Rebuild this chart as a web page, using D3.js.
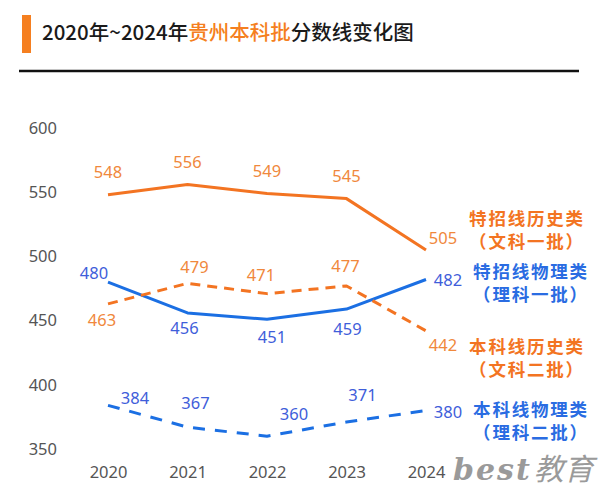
<!DOCTYPE html>
<html><head><meta charset="utf-8">
<script src="https://cdn.jsdelivr.net/npm/d3@7"></script>
<style>
html,body{margin:0;padding:0;background:#fff;}
svg{display:block;font-family:"Noto Sans CJK SC","Noto Sans",sans-serif;}
</style></head>
<body>
<svg id="c" width="600" height="495"></svg>
<script>
const years = ["2020","2021","2022","2023","2024"];
const yTicks = [350,400,450,500,550,600];
const histSpecial = [548,556,549,545,505];   // 特招线历史类（文科一批）
const physSpecial = [480,456,451,459,482];   // 特招线物理类（理科一批）
const histUndergrad = [463,479,471,477,442]; // 本科线历史类（文科二批）
const physUndergrad = [384,367,360,371,380]; // 本科线物理类（理科二批）
const seriesNames = [["特招线历史类","（文科一批）"],["特招线物理类","（理科一批）"],["本科线历史类","（文科二批）"],["本科线物理类","（理科二批）"]];

const ORANGE="#F37422", ORANGE_T="#F0883C", BLUE="#1B6FE3", BLUE_T="#3F5EDA", BLUE_L="#2A6CE2";

const series = [
  {values:histSpecial, color:ORANGE, tcolor:ORANGE_T, lcolor:ORANGE, dash:null, name:seriesNames[0],
   off:[[0,-23],[0,-23],[0,-23],[0,-23],[17,-12]], legend:[527,217]},
  {values:physSpecial, color:BLUE, tcolor:BLUE_T, lcolor:BLUE_L, dash:null, name:seriesNames[1],
   off:[[-14,-10],[-3,15],[5,17],[1,19],[22,0]], legend:[531,270]},
  {values:histUndergrad, color:ORANGE, tcolor:ORANGE_T, lcolor:ORANGE, dash:"10,7", name:seriesNames[2],
   off:[[-6,16],[7,-17],[-6,-19],[-1,-20],[17,14]], legend:[527,345]},
  {values:physUndergrad, color:BLUE, tcolor:BLUE_T, lcolor:BLUE_L, dash:"12,10", name:seriesNames[3],
   off:[[27,-8],[8,-25],[27,-23],[16,-28],[22,1]], legend:[531,408]}
];

const svg = d3.select("#c");

// Title
svg.append("rect").attr("x",22).attr("y",15).attr("width",9).attr("height",38).attr("fill","#F57F20");
const title = svg.append("text").attr("x",42).attr("y",40).attr("font-size",20.5).attr("font-weight",500).attr("fill","#1a1a1a");
title.append("tspan").text("2020年~2024年");
title.append("tspan").attr("fill","#F57F20").text("贵州本科批");
title.append("tspan").text("分数线变化图");
svg.append("line").attr("x1",19).attr("x2",579).attr("y1",71).attr("y2",71).attr("stroke","#111").attr("stroke-width",2.5);

const x = d3.scalePoint().domain(years).range([108,426]);
const y = d3.scaleLinear().domain([350,600]).range([449,128]);

// Axes
const yAx = svg.append("g").attr("transform","translate(62,0)")
  .call(d3.axisLeft(y).tickValues(yTicks).tickSize(0).tickPadding(5).tickFormat(d3.format("d")));
yAx.select(".domain").remove();
yAx.selectAll("text").attr("font-size",16.5).attr("fill","#555").attr("font-family","'Noto Sans',sans-serif");

const xAx = svg.append("g").attr("transform","translate(0,460)")
  .call(d3.axisBottom(x).tickSize(0).tickPadding(6));
xAx.select(".domain").remove();
xAx.selectAll("text").attr("font-size",16.5).attr("fill","#555").attr("font-family","'Noto Sans',sans-serif");

const line = d3.line().x((d,i)=>x(years[i])).y(d=>y(d));

series.forEach(s=>{
  svg.append("path").datum(s.values).attr("d",line).attr("fill","none")
    .attr("stroke",s.color).attr("stroke-width",3).attr("stroke-linejoin","round")
    .attr("stroke-dasharray",s.dash);
  svg.append("g").selectAll("text").data(s.values).join("text")
    .attr("x",(d,i)=>x(years[i])+s.off[i][0])
    .attr("y",(d,i)=>y(d)+s.off[i][1])
    .attr("text-anchor","middle").attr("dominant-baseline","central")
    .attr("font-size",16.5).attr("fill",s.tcolor).attr("font-family","'Noto Sans',sans-serif")
    .text(d=>d);
  const lg = svg.append("g");
  s.name.forEach((t,k)=>{
    lg.append("text").attr("x",s.legend[0]).attr("y",s.legend[1]+k*23)
      .attr("text-anchor","middle").attr("dominant-baseline","central")
      .attr("font-size",17.5).attr("font-weight",700).attr("letter-spacing",1.8)
      .attr("fill",s.lcolor).text(t);
  });
});

// Watermark
const wm = svg.append("text").attr("x",453).attr("y",480).attr("fill","#9a9a9a");
wm.append("tspan").attr("font-family","'DejaVu Serif',serif").attr("font-style","italic").attr("font-weight",700).attr("font-size",30).attr("letter-spacing",2).text("best");
wm.append("tspan").attr("font-size",30).attr("font-style","italic").attr("dx",2).text("教育");
</script>
</body></html>
